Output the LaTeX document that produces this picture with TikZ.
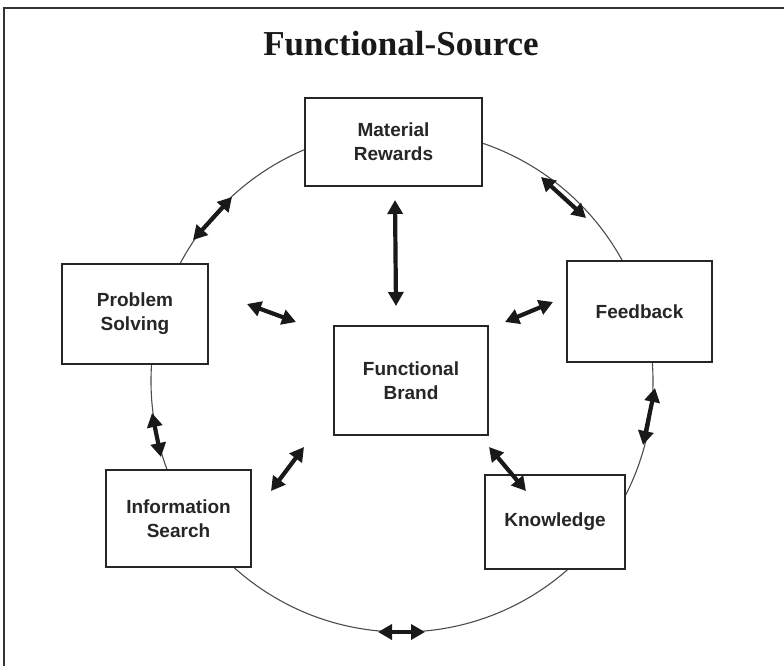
\documentclass[tikz,border=0pt]{standalone}
\usepackage{fontspec}
\setmainfont{Liberation Serif}
\setsansfont{Liberation Sans}
\usetikzlibrary{arrows.meta}

\tikzset{
  frameline/.style={draw=black!80, line width=2pt},
  ring/.style={draw=black!70, line width=1.1pt},
  concept/.style={draw=black!85, line width=1.4pt, fill=white, align=center,
    font=\sffamily\bfseries\fontsize{19}{24}\selectfont, text=black!85,
    inner sep=0pt},
  link/.style={line width=4.2pt, draw=black!90,
    {Triangle[length=14pt,width=15pt]}-{Triangle[length=14pt,width=15pt]}},
  heading/.style={font=\bfseries\fontsize{35}{40}\selectfont, text=black!90}
}

\begin{document}
\begin{tikzpicture}[x=1pt,y=-1pt]
  \useasboundingbox (0,0) rectangle (784,666);

  % open frame: top and left edges
  \draw[frameline] (784,8) -- (4,8) -- (4,666);

  \node[heading] (title) at (401,44) {Functional-Source};

  % ring through the outer concepts
  \draw[ring] (402,381) circle (251);

  % concepts
  \node[concept, minimum width=177pt, minimum height=88pt] (mat) at (393.5,142) {Material\\Rewards};
  \node[concept, minimum width=146pt, minimum height=100pt] (prob) at (135,314) {Problem\\Solving};
  \node[concept, minimum width=145pt, minimum height=101pt] (feed) at (639.5,311.5) {Feedback};
  \node[concept, minimum width=154pt, minimum height=109pt] (brand) at (411,380.5) {Functional\\Brand};
  \node[concept, minimum width=145pt, minimum height=97pt] (info) at (178.5,518.5) {Information\\Search};
  \node[concept, minimum width=140pt, minimum height=94pt] (know) at (555,522) {Knowledge};

  % end points of the two-headed links
  \coordinate (mp1) at (193,240);  \coordinate (mp2) at (232,197);
  \coordinate (mf1) at (541,177);  \coordinate (mf2) at (586,218);
  \coordinate (mb1) at (395,200);  \coordinate (mb2) at (396,306);
  \coordinate (pb1) at (247,304);  \coordinate (pb2) at (296,322);
  \coordinate (fb1) at (505,322);  \coordinate (fb2) at (553,302);
  \coordinate (pi1) at (152,413);  \coordinate (pi2) at (161,457);
  \coordinate (fk1) at (655,388);  \coordinate (fk2) at (643,445);
  \coordinate (bi1) at (304,447);  \coordinate (bi2) at (271,491);
  \coordinate (bk1) at (489,447);  \coordinate (bk2) at (526,491);
  \coordinate (ik1) at (378,632);  \coordinate (ik2) at (425,632);

  \draw[link] (mp1) -- (mp2);
  \draw[link] (mf1) -- (mf2);
  \draw[link] (mb1) -- (mb2);
  \draw[link] (pb1) -- (pb2);
  \draw[link] (fb1) -- (fb2);
  \draw[link] (pi1) -- (pi2);
  \draw[link] (fk1) -- (fk2);
  \draw[link] (bi1) -- (bi2);
  \draw[link] (bk1) -- (bk2);
  \draw[link] (ik1) -- (ik2);
\end{tikzpicture}
\end{document}
